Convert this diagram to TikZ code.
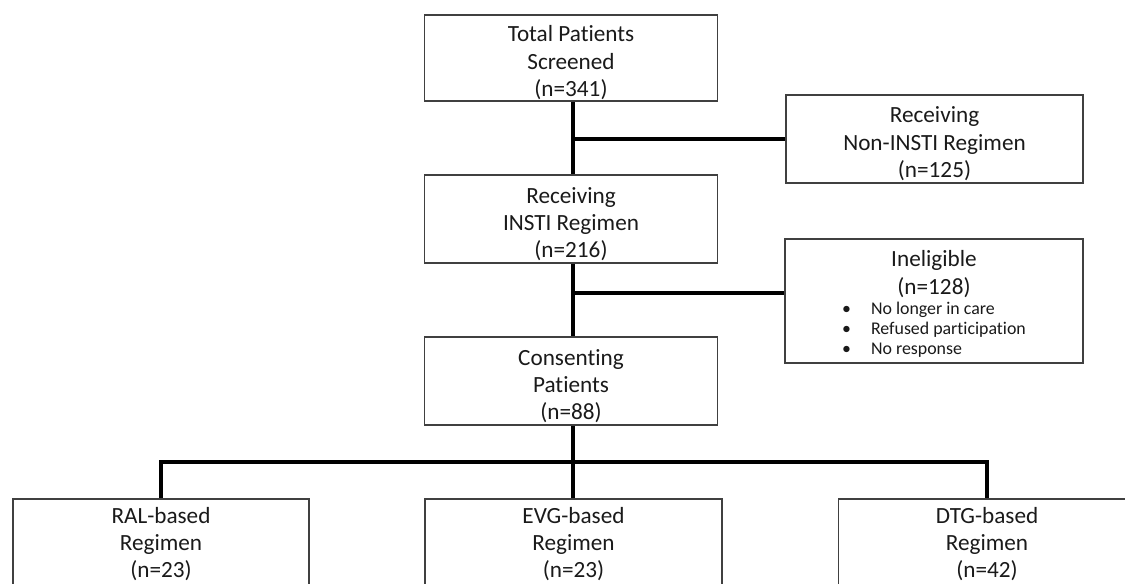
\documentclass[tikz,border=0pt]{standalone}
\usepackage{fontspec}
\setmainfont{Carlito}[Ligatures={CommonOff}]
\definecolor{boxline}{HTML}{404040}
\definecolor{txt}{HTML}{1A1A1A}
\newcommand\mainsize{\fontsize{17.4}{20.3}\selectfont}
\newcommand\listsize{\fontsize{13.4}{15}\selectfont}
\newcommand\tstrut{\rule{0pt}{19pt}}
\newcommand\lowstrut{\rule{0pt}{18.4pt}}
\newcommand\bstrut{\rule[-21pt]{0pt}{21pt}}
\begin{document}
\begin{tikzpicture}[x=0.75pt,y=-0.75pt,
  box/.style={draw=boxline, line width=1pt, fill=white, align=center,
    inner sep=0pt, text=txt, font=\mainsize},
  bw/.style={minimum width=#1*0.75pt},
  bh/.style={minimum height=#1*0.75pt},
  conn/.style={draw=black, line width=2.7pt, line join=miter}]
\useasboundingbox (0,0) rectangle (1125,583);
\clip (0,0) rectangle (1125,583);
\fill[white] (0,0) rectangle (1125,583);

\coordinate (b1) at (573,139);
\coordinate (b2) at (573,293);
\coordinate (bar) at (573,462);

\node[box,bw=293,bh=86] (total) at (571,58) {\tstrut Total Patients\\Screened\\(n=341)};
\node[box,bw=293,bh=88] (insti) at (571,219) {\tstrut Receiving\\INSTI Regimen\\(n=216)};
\node[box,bw=293,bh=88] (consent) at (571,381) {\tstrut Consenting\\Patients\\(n=88)};
\node[box,bw=297,bh=88] (noninsti) at (934.5,139) {\tstrut Receiving\\Non-INSTI Regimen\\(n=125)};
\node[box,bw=298,bh=124] (inelig) at (934,301) {\tstrut Ineligible\\(n=128)\\[-5pt]{\listsize\begin{tabular}[t]{@{}l@{\hspace{15pt}}l@{}}•&No longer in care\\•&Refused participation\\•&No response\end{tabular}}};
\node[box,bw=296,bh=100] (ral) at (161,552.3) {\lowstrut RAL-based\\Regimen\\(n=23)\bstrut};
\node[box,bw=297,bh=100] (evg) at (573.5,552.3) {\lowstrut EVG-based\\Regimen\\(n=23)\bstrut};
\node[box,bw=297,bh=100] (dtg) at (987,552.3) {\lowstrut DTG-based\\Regimen\\(n=42)\bstrut};

\draw[conn] (total.south -| b1) -- (insti.north -| b1);
\draw[conn] (b1) -- (noninsti.west);
\draw[conn] (insti.south -| b2) -- (consent.north -| b2);
\draw[conn] (b2) -- (b2 -| inelig.west);
\draw[conn] (consent.south -| bar) -- (evg.north -| bar);
\draw[conn] (ral.north) |- (bar) -| (dtg.north);
\end{tikzpicture}
\end{document}
